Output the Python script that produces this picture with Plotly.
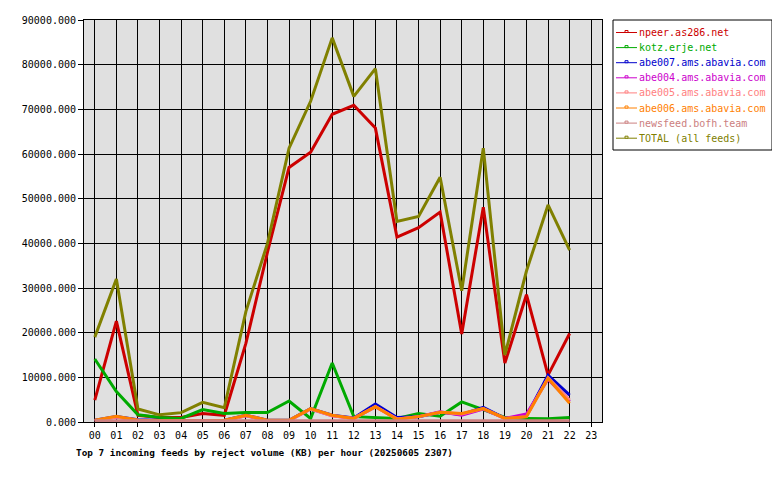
import plotly.graph_objects as go

hours = list(range(23))
tick_vals = list(range(24))
tick_text = [f"{h:02d}" for h in range(24)]

npeer = [4900, 22600, 1500, 1000, 1000, 1900, 1500, 17600, 38000, 57000, 60400, 68900,
         70900, 65800, 41400, 43500, 47000, 19700, 48100, 13200, 28500, 10500, 19800]
kotz = [14100, 6800, 1600, 1000, 800, 2800, 1900, 2100, 2100, 4700, 800, 13200,
        1200, 1000, 800, 1900, 1300, 4500, 2700, 1000, 800, 700, 1000]
abe007 = [400, 1200, 500, 300, 200, 200, 400, 1500, 400, 400, 3000, 1500,
          900, 4000, 1000, 1200, 2200, 1700, 3300, 800, 1300, 10500, 6000]
abe004 = [300, 1100, 400, 300, 200, 200, 300, 1400, 300, 300, 2900, 1400,
          800, 3400, 700, 1200, 2300, 1500, 2900, 800, 1800, 9600, 4600]
abe005 = [300, 1100, 400, 300, 200, 200, 300, 1400, 300, 300, 2900, 1400,
          800, 3500, 700, 1200, 2200, 1800, 3000, 800, 1200, 9900, 4900]
abe006 = [400, 1300, 400, 300, 200, 200, 400, 1500, 400, 400, 3000, 1500,
          800, 3400, 600, 1200, 2200, 1900, 3000, 800, 1200, 9800, 4200]
newsfeed = [300] * 23
total = [19000, 32000, 2900, 1600, 2100, 4400, 3200, 24700, 40000, 61300, 71800, 86000,
         72900, 79100, 44900, 46000, 54800, 29400, 61300, 15000, 33800, 48600, 38500]

series = [
    ("npeer.as286.net", npeer, "#cc0000"),
    ("kotz.erje.net", kotz, "#00aa00"),
    ("abe007.ams.abavia.com", abe007, "#0000cc"),
    ("abe004.ams.abavia.com", abe004, "#cc00cc"),
    ("abe005.ams.abavia.com", abe005, "#ff8080"),
    ("abe006.ams.abavia.com", abe006, "#ff8000"),
    ("newsfeed.bofh.team", newsfeed, "#cc8080"),
    ("TOTAL (all feeds)", total, "#808000"),
]

mono = "DejaVu Sans Mono"

# page offset (default body margin) and target plot area in window pixels
OFF = 8
L, R, T, B = 84 - OFF, 602 - OFF, 20 - OFF, 422 - OFF
W, H = 780, 480


def px(x):
    return (x - OFF - L) / (R - L)


def py(y):
    return (B - (y - OFF)) / (B - T)


fig = go.Figure()
for name, vals, color in series:
    fig.add_trace(go.Scatter(
        x=hours, y=vals, mode="lines", name=name,
        line=dict(color=color, width=3),
    ))

shapes = []
annotations = []
# legend box
shapes.append(dict(type="rect", xref="paper", yref="paper",
                   x0=px(613), x1=px(772), y0=py(20), y1=py(150),
                   line=dict(color="black", width=1), fillcolor="white", layer="above"))
for i, (name, vals, color) in enumerate(series):
    yy = 32.5 + 15.1 * i
    shapes.append(dict(type="line", xref="paper", yref="paper",
                       x0=px(616), x1=px(637), y0=py(yy), y1=py(yy),
                       line=dict(color=color, width=1), layer="above"))
    shapes.append(dict(type="rect", xref="paper", yref="paper",
                       x0=px(625), x1=px(628), y0=py(yy - 2), y1=py(yy),
                       line=dict(color=color, width=1), fillcolor="white", layer="above"))
    annotations.append(dict(text=name, xref="paper", yref="paper",
                            x=px(638), y=py(yy), xanchor="left", yanchor="middle",
                            showarrow=False, borderpad=0,
                            font=dict(family=mono, size=10, color=color)))

annotations.append(dict(
    text="<b>Top 7 incoming feeds by reject volume (KB) per hour (20250605 2307)</b>",
    xref="paper", yref="paper", x=px(75), y=py(452), xanchor="left", yanchor="middle",
    showarrow=False, borderpad=0, font=dict(family=mono, size=9.35, color="black"),
))

fig.update_layout(
    width=W, height=H,
    margin=dict(l=L, r=W - R, t=T, b=H - B, autoexpand=False),
    paper_bgcolor="white",
    plot_bgcolor="#e0e0e0",
    font=dict(family=mono, size=10, color="black"),
    showlegend=False,
    shapes=shapes,
    annotations=annotations,
)
fig.update_xaxes(
    range=[-0.5, 23.5], tickmode="array", tickvals=tick_vals, ticktext=tick_text,
    showgrid=True, gridcolor="black", gridwidth=1,
    showline=True, linecolor="black", linewidth=1, mirror=True,
    ticks="outside", ticklen=4, tickcolor="black", zeroline=False,
)
fig.update_yaxes(
    range=[0, 90000], dtick=10000, tickformat=".3f",
    showgrid=True, gridcolor="black", gridwidth=1,
    showline=True, linecolor="black", linewidth=1, mirror=True,
    ticks="outside", ticklen=5, tickcolor="black", zeroline=False,
)

fig.write_html("out.html")
